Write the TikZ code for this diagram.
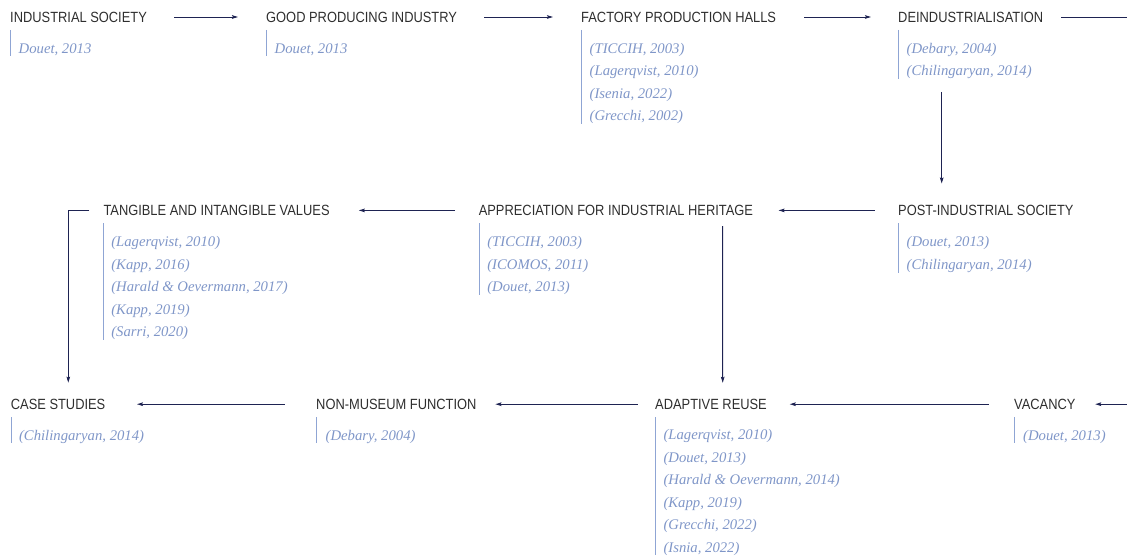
\documentclass[tikz,border=0pt]{standalone}
\usepackage{fontspec}
\usetikzlibrary{arrows.meta,calc}
\newfontfamily\ttlfont[FakeStretch=0.87]{Liberation Sans}
\newfontfamily\citfont{Liberation Serif}
\definecolor{ttlcol}{HTML}{2E2E2E}
\definecolor{citcol}{HTML}{7F96C8}
\definecolor{barcol}{HTML}{8FA5D4}
\definecolor{arrcol}{HTML}{1E2352}
\newcommand\citelist[1]{\vtop{\baselineskip=22.5pt\lineskiplimit=-30pt\lineskip=0pt\halign{##\hfil\cr#1\crcr}}}
\newcommand\citebar[2]{\draw[barline] let \p1=(#1.base west), \p2=(#2.south) in (\x1+0.5pt,\y1-7.5pt) -- (\x1+0.5pt,\y2);}
\begin{document}
\begin{tikzpicture}[x=1pt,y=-1pt,
  ttl/.style={inner sep=0pt, anchor=base west, font=\ttlfont\fontsize{14.8}{16}\selectfont, text=ttlcol, text height=10.6pt, text depth=0pt},
  cit/.style={inner sep=0pt, anchor=base west, font=\citfont\itshape\fontsize{14.7}{22.5}\selectfont, text=citcol},
  barline/.style={draw=barcol, line width=0.9pt},
  arr/.style={draw=arrcol, line width=1pt, -{Stealth[length=6pt,width=3.6pt,inset=1pt]}},
  lin/.style={draw=arrcol, line width=1pt}
]
\useasboundingbox (0,0) rectangle (1127,557);

% Row 1
\node[ttl] (n1) at (10,22.3) {INDUSTRIAL SOCIETY};
\node[ttl] (n2) at (266,22.3) {GOOD PRODUCING INDUSTRY};
\node[ttl] (n3) at (581,22.3) {FACTORY PRODUCTION HALLS};
\node[ttl] (n4) at (898,22.3) {DEINDUSTRIALISATION};
% Row 2
\node[ttl] (n5) at (898,215.7) {POST-INDUSTRIAL SOCIETY};
\node[ttl] (n6) at (478.6,215.7) {APPRECIATION FOR INDUSTRIAL HERITAGE};
\node[ttl] (n7) at (103.3,215.7) {TANGIBLE AND INTANGIBLE VALUES};
% Row 3
\node[ttl] (n8) at (10.7,409.5) {CASE STUDIES};
\node[ttl] (n9) at (316,409.5) {NON-MUSEUM FUNCTION};
\node[ttl] (n10) at (655,409.5) {ADAPTIVE REUSE};
\node[ttl] (n11) at (1014,409.5) {VACANCY};

% Citations
\node[cit] (c1) at ($(n1.base west)+(8.5,31)$) {\citelist{Douet, 2013}};
\node[cit] (c2) at ($(n2.base west)+(8.5,31)$) {\citelist{Douet, 2013}};
\node[cit] (c3) at ($(n3.base west)+(8.5,31)$) {\citelist{(TICCIH, 2003)\cr(Lagerqvist, 2010)\cr(Isenia, 2022)\cr(Grecchi, 2002)}};
\node[cit] (c4) at ($(n4.base west)+(8.5,31)$) {\citelist{(Debary, 2004)\cr(Chilingaryan, 2014)}};
\node[cit] (c5) at ($(n5.base west)+(8.5,31)$) {\citelist{(Douet, 2013)\cr(Chilingaryan, 2014)}};
\node[cit] (c6) at ($(n6.base west)+(8.5,31)$) {\citelist{(TICCIH, 2003)\cr(ICOMOS, 2011)\cr(Douet, 2013)}};
\node[cit] (c7) at ($(n7.base west)+(7.8,31)$) {\citelist{(Lagerqvist, 2010)\cr(Kapp, 2016)\cr(Harald \& Oevermann, 2017)\cr(Kapp, 2019)\cr(Sarri, 2020)}};
\node[cit] (c8) at ($(n8.base west)+(8.2,30.5)$) {\citelist{(Chilingaryan, 2014)}};
\node[cit] (c9) at ($(n9.base west)+(9.5,30.5)$) {\citelist{(Debary, 2004)}};
\node[cit] (c10) at ($(n10.base west)+(8.3,30)$) {\citelist{(Lagerqvist, 2010)\cr(Douet, 2013)\cr(Harald \& Oevermann, 2014)\cr(Kapp, 2019)\cr(Grecchi, 2022)\cr(Isnia, 2022)}};
\node[cit] (c11) at ($(n11.base west)+(9,30.5)$) {\citelist{(Douet, 2013)}};

\citebar{n1}{c1}
\citebar{n2}{c2}
\citebar{n3}{c3}
\citebar{n4}{c4}
\citebar{n5}{c5}
\citebar{n6}{c6}
\citebar{n7}{c7}
\citebar{n8}{c8}
\citebar{n9}{c9}
\citebar{n10}{c10}
\citebar{n11}{c11}

% Row 1 connectors
\draw[arr, shorten <=27pt, shorten >=28pt] (n1.east) -- (n2.west);
\draw[arr, shorten <=27pt, shorten >=28pt] (n2.east) -- (n3.west);
\draw[arr, shorten <=28pt, shorten >=27pt] (n3.east) -- (n4.west);
\coordinate (e1) at (1127,17);
\draw[lin, shorten <=18pt] (n4.east) -- (e1);
% Down to row 2
\draw[arr] ([xshift=43.7pt,yshift=-69.4pt]n4.south west) -- ([xshift=43.7pt,yshift=21.4pt]n5.north west);
% Row 2 connectors
\draw[arr, shorten <=23.4pt, shorten >=25.3pt] (n5.west) -- (n6.east);
\draw[arr, shorten <=23.6pt, shorten >=29pt] (n6.west) -- (n7.east);
\draw[arr] ([xshift=244.1pt,yshift=-10.3pt]n6.south west) -- ([xshift=67.7pt,yshift=15.9pt]n10.north west);
\draw[arr] ([xshift=-14pt]n7.west) -| ([xshift=57.6pt,yshift=16pt]n8.north west);
% Row 3 connectors
\coordinate (e2) at (1127,404.2);
\draw[arr, shorten >=19.5pt] (e2) -- (n11.east);
\draw[arr, shorten <=25.4pt, shorten >=22.7pt] (n11.west) -- (n10.east);
\draw[arr, shorten <=17.2pt, shorten >=18.8pt] (n10.west) -- (n9.east);
\draw[arr, shorten <=31.4pt, shorten >=31.4pt] (n9.west) -- (n8.east);
\end{tikzpicture}
\end{document}
